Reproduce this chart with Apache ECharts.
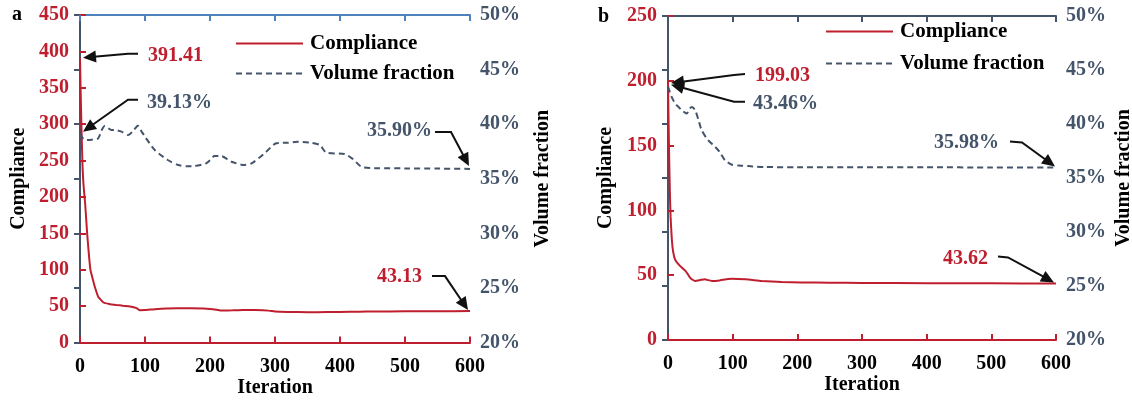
<!DOCTYPE html>
<html>
<head>
<meta charset="utf-8">
<script src="https://cdn.jsdelivr.net/npm/echarts@6/dist/echarts.min.js"></script>
<style>
html,body{margin:0;padding:0;background:#fff;}
#chart{width:1132px;height:401px;}
</style>
</head>
<body>
<div id="chart"></div>
<script>
// ---------- DATA ----------
const xTicks = [0, 100, 200, 300, 400, 500, 600];

// Panel a: compliance
const aCompIter = [0,1,2,3,4,5,6,8,11,16,20,23,28,36,45,56,66,77,87,92,100,115,133,150,170,190,200,210,218,235,250,270,290,300,320,350,380,400,430,450,500,550,600];
const aCompVal  = [391.41,345,305,270,240,222,210,190,150,100,86,76,63,55,53,51.6,50.5,49.6,47.3,44.3,44.5,45.8,46.8,47,47,46.6,46,45,44,44.3,44.8,44.6,43.8,42.6,42,41.6,41.8,42,42.3,42.6,42.8,43,43.13];
// Panel a: volume fraction (%)
const aVolIter = [0,6,12,20,28,33,38,48,56,64,74,82,89,94,100,115,135,151,165,176,194,200,207,217,233,253,264,284,302,320,335,356,369,379,407,420,433,458,500,550,600];
const aVolVal  = [39.13,38.6,38.55,38.6,38.7,39.4,39.83,39.47,39.45,39.31,39.0,39.4,39.86,39.4,38.85,37.63,36.72,36.26,36.15,36.17,36.41,36.7,37.08,37.08,36.56,36.26,36.41,37.33,38.25,38.3,38.39,38.3,38.09,37.39,37.27,36.8,36.1,35.96,35.95,35.93,35.90];

// Panel b: compliance
const bCompIter = [0,1,2,3,4,6,8,11,16,22,27,31,34,38,42,50,57,62,68,80,98,120,145,176,206,250,300,400,500,600];
const bCompVal  = [199.03,165,135,112,95,77,68,62,58.5,55.5,53.3,50.5,48.2,46.5,45.6,46.3,46.9,46.2,45.6,46.0,47.2,46.8,45.6,44.8,44.4,44.2,44.0,43.8,43.7,43.62];
// Panel b: volume fraction (%)
const bVolIter = [0,5,11,16,21,29,33,37,42,47,52,62,73,80,88,98,110,124,150,200,300,400,500,600];
const bVolVal  = [43.46,42.6,41.9,41.6,41.28,40.97,41.4,41.58,41.28,40.4,39.43,38.5,37.88,37.4,36.65,36.25,36.15,36.1,36.02,36.0,36.0,35.99,35.98,35.98];

// Annotations
const annotLabels = ['391.41','39.13%','35.90%','43.13','199.03','43.46%','35.98%','43.62'];
const annotIter   = [0, 0, 600, 600, 0, 0, 600, 600];
const annotValue  = [391.41, 39.13, 35.90, 43.13, 199.03, 43.46, 35.98, 43.62];

const seriesNames = ['Compliance', 'Volume fraction'];
const panelLetters = ['a', 'b'];

// ---------- STYLE ----------
const FONT = '"Liberation Serif", "Times New Roman", serif';
const RED = '#BF1E2E';
const SLATE = '#44546A';
const BLUE = '#4F81BD';

function pairs(xs, ys){ return xs.map((x,i)=>[x, ys[i]]); }

function xAxes(grid, topColor){
  return [
    {type:'value', gridIndex:grid, min:0, max:600, interval:100, position:'bottom',
     axisLine:{lineStyle:{color:RED,width:2}},
     axisTick:{inside:true,length:6,lineStyle:{color:RED,width:2}},
     axisLabel:{color:'#000',fontFamily:FONT,fontWeight:'bold',fontSize:20,margin:14},
     splitLine:{show:false},
     name:'Iteration', nameLocation:'middle', nameGap:35, nameMoveOverlap:false,
     nameTextStyle:{color:'#000',fontFamily:FONT,fontWeight:'bold',fontSize:20}},
    {type:'value', gridIndex:grid, min:0, max:600, interval:100, position:'top',
     axisLine:{lineStyle:{color:topColor,width:2}},
     axisTick:{inside:true,length:6,lineStyle:{color:topColor,width:2}},
     axisLabel:{show:false}, splitLine:{show:false}}
  ];
}
function yAxes(grid, maxLeft, nameGapL, nameGapR){
  return [
    {type:'value', gridIndex:grid, min:0, max:maxLeft, interval:50, position:'left',
     axisLine:{show:true,lineStyle:{color:RED,width:2}},
     axisTick:{show:true,inside:true,length:6,lineStyle:{color:RED,width:2}},
     axisLabel:{color:RED,fontFamily:FONT,fontWeight:'bold',fontSize:20,margin:11},
     splitLine:{show:false},
     name:'Compliance', nameLocation:'middle', nameGap:nameGapL, nameRotate:90, nameMoveOverlap:false,
     nameTextStyle:{color:'#000',fontFamily:FONT,fontWeight:'bold',fontSize:20}},
    {type:'value', gridIndex:grid, min:20, max:50, interval:5, position:'right',
     axisLine:{show:true,lineStyle:{color:SLATE,width:2}},
     axisTick:{show:true,inside:true,length:6,lineStyle:{color:SLATE,width:2}},
     axisLabel:{color:SLATE,fontFamily:FONT,fontWeight:'bold',fontSize:20,margin:10,formatter:'{value}%'},
     splitLine:{show:false},
     name:'Volume fraction', nameLocation:'middle', nameGap:nameGapR, nameRotate:90, nameMoveOverlap:false,
     nameTextStyle:{color:'#000',fontFamily:FONT,fontWeight:'bold',fontSize:20}}
  ];
}
function lineSeries(xi, yi, data, isVol){
  return {
    type:'line', name: isVol ? seriesNames[1] : seriesNames[0],
    xAxisIndex:xi, yAxisIndex:yi, data:data, symbol:'none', showSymbol:false,
    smooth: isVol ? 0.25 : 0.15, clip:true,
    lineStyle: isVol ? {color:SLATE,width:2,type:[6,4]} : {color:RED,width:2},
    itemStyle:{color: isVol ? SLATE : RED}
  };
}
function legend(left, top, gap){
  return {orient:'vertical', left:left, top:top, padding:0, itemWidth:67, itemHeight:14, itemGap:gap,
    data:seriesNames, selectedMode:false, itemStyle:{opacity:0},
    textStyle:{color:'#000',fontFamily:FONT,fontWeight:'bold',fontSize:21,lineHeight:20,padding:[0,0,0,2]}};
}

const chart = echarts.init(document.getElementById('chart'));
chart.setOption({
  animation:false,
  backgroundColor:'#fff',
  grid:[
    {left:80, top:15, width:390, height:327.5, outerBoundsMode:'none', containLabel:false},
    {left:668, top:16, width:388, height:324, outerBoundsMode:'none', containLabel:false}
  ],
  xAxis: xAxes(0, BLUE).concat(xAxes(1, SLATE)),
  yAxis: yAxes(0, 450, 51, 63).concat(yAxes(1, 250, 52, 58)),
  legend:[legend(235, 33, 9), legend(825, 21, 11)],
  series:[
    lineSeries(0,0,pairs(aCompIter,aCompVal),false),
    lineSeries(0,1,pairs(aVolIter,aVolVal),true),
    lineSeries(2,2,pairs(bCompIter,bCompVal),false),
    lineSeries(2,3,pairs(bVolIter,bVolVal),true)
  ]
});

// ---------- annotation layout (offsets from target point, px) ----------
const annotLayout = [
  {xa:0, ya:0, color:RED,   align:'left',  text:[68,-2],  pts:[[58,-4],[48,-4],[3,0]]},
  {xa:0, ya:1, color:SLATE, align:'left',  text:[67,-31], pts:[[58,-34],[48,-34],[3,-2]]},
  {xa:0, ya:1, color:SLATE, align:'right', text:[-38,-38],pts:[[-35,-37],[-19,-37],[-1,-3]]},
  {xa:0, ya:0, color:RED,   align:'right', text:[-48,-34],pts:[[-38,-35],[-25,-35],[-2,-1]]},
  {xa:2, ya:2, color:RED,   align:'left',  text:[87,-6],  pts:[[77,-8],[66,-7],[3,1]]},
  {xa:2, ya:3, color:SLATE, align:'left',  text:[85,17],  pts:[[77,15],[66,15],[3,-2]]},
  {xa:2, ya:3, color:SLATE, align:'right', text:[-57,-25],pts:[[-46,-26],[-34,-25],[-1,-1]]},
  {xa:2, ya:2, color:RED,   align:'right', text:[-68,-25],pts:[[-58,-27],[-48,-26],[-2,-1]]}
];

const graphics = [];
annotLabels.forEach((lab, i)=>{
  const L = annotLayout[i];
  const T = chart.convertToPixel({xAxisIndex:L.xa, yAxisIndex:L.ya}, [annotIter[i], annotValue[i]]);
  const pts = L.pts.map(p=>[T[0]+p[0], T[1]+p[1]]);
  const P = pts[pts.length-1], Q = pts[pts.length-2];
  let dx = P[0]-Q[0], dy = P[1]-Q[1];
  const len = Math.hypot(dx,dy); dx/=len; dy/=len;
  const head = 13, hw = 6;
  const base = [P[0]-dx*head, P[1]-dy*head];
  const linePts = pts.slice(0,-1).concat([[P[0]-dx*(head-2), P[1]-dy*(head-2)]]);
  graphics.push({type:'polyline', shape:{points:linePts}, style:{stroke:'#111',lineWidth:2,fill:null}, z:100});
  graphics.push({type:'polygon', shape:{points:[P,[base[0]-dy*hw, base[1]+dx*hw],[base[0]+dy*hw, base[1]-dx*hw]]}, style:{fill:'#111'}, z:100});
  graphics.push({type:'text', x:T[0]+L.text[0], y:T[1]+L.text[1], z:100,
    style:{text:lab, fill:L.color, font:'bold 20px ' + FONT, align:L.align, verticalAlign:'middle'}});
});
// panel letters
graphics.push({type:'text', x:12, y:15, style:{text:panelLetters[0], fill:'#000', font:'bold 20px '+FONT, align:'left', verticalAlign:'middle'}});
graphics.push({type:'text', x:598, y:17, style:{text:panelLetters[1], fill:'#000', font:'bold 20px '+FONT, align:'left', verticalAlign:'middle'}});
chart.setOption({graphic: graphics});
</script>
</body>
</html>
